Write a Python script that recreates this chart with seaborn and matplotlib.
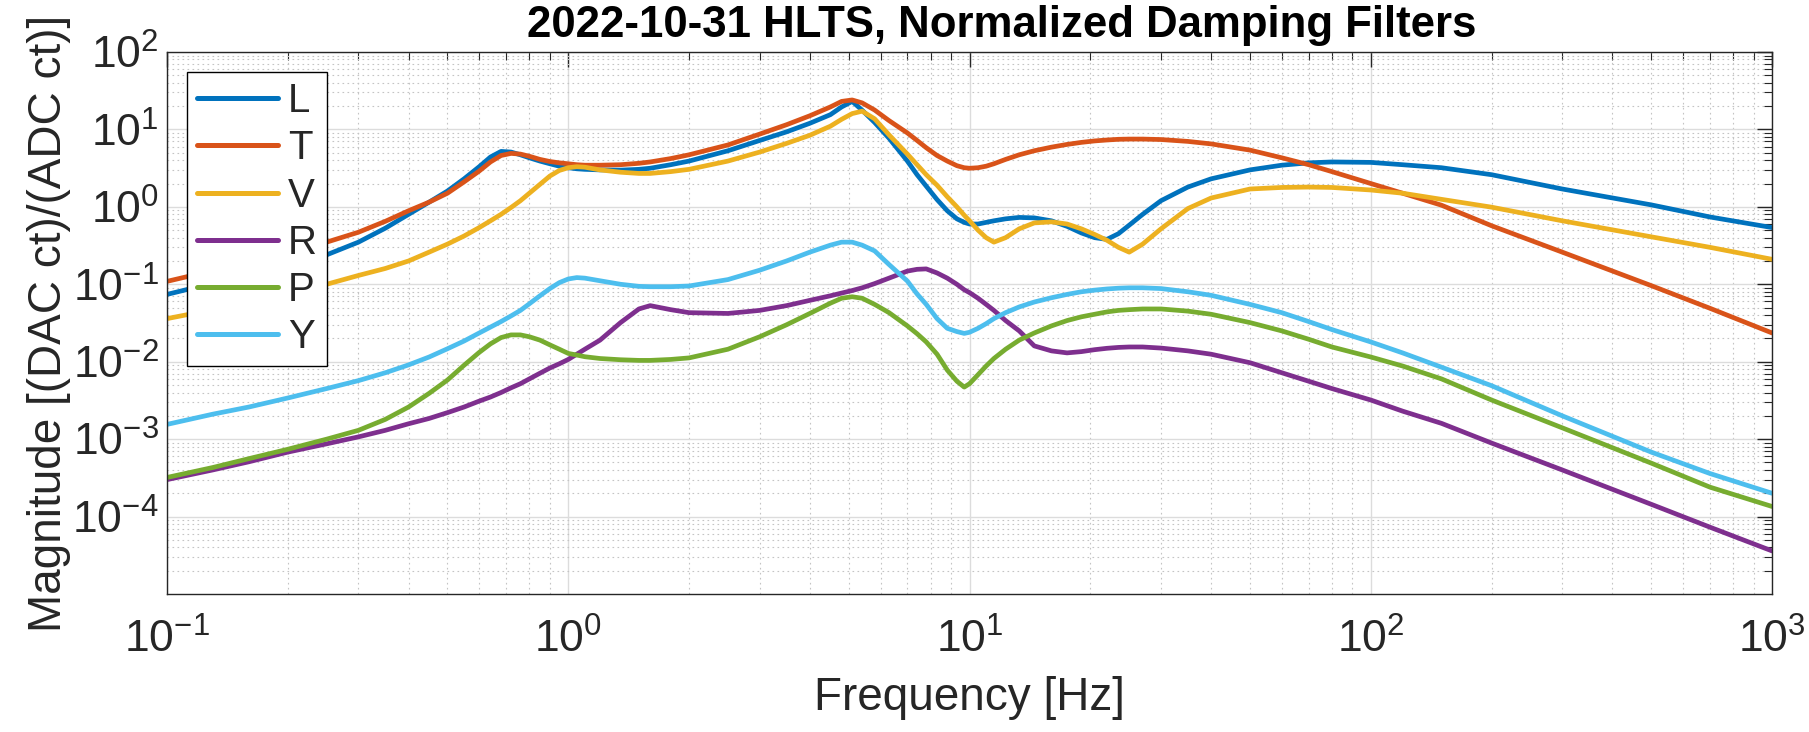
import numpy as np
import pandas as pd
import seaborn as sns
import matplotlib.pyplot as plt
from matplotlib.ticker import LogLocator, NullFormatter

# --- DATA ---
freq = [0.1, 0.13, 0.16, 0.2, 0.25, 0.3, 0.35, 0.4, 0.45, 0.5, 0.55, 0.6, 0.64, 0.68, 0.72,
        0.76, 0.8, 0.85, 0.9, 0.95, 1.0, 1.05, 1.1, 1.2, 1.35, 1.5, 1.6, 1.8, 2, 2.5, 3, 3.5,
        4, 4.5, 4.8, 5.1, 5.4, 5.8, 6.3, 7, 7.4, 7.8, 8.3, 8.8, 9.3, 9.7, 10, 10.5, 11, 11.5,
        12.3, 13.3, 14.5, 16, 17.5, 19, 20.5, 22, 23.5, 25, 27, 30, 35, 40, 50, 60, 70, 80,
        100, 120, 150, 200, 300, 500, 700, 1000]

mag_L = [0.074, 0.103, 0.133, 0.176, 0.24, 0.35, 0.53, 0.80, 1.15, 1.6, 2.3, 3.3, 4.4, 5.2, 5.1,
         4.7, 4.3, 3.9, 3.6, 3.35, 3.2, 3.1, 3.05, 3.0, 2.98, 3.05, 3.15, 3.5, 3.9, 5.3, 7.2, 9.3,
         12, 15.5, 19.5, 23, 17.7, 12.3, 7.7, 3.9, 2.6, 1.85, 1.24, 0.89, 0.70, 0.63, 0.6, 0.6, 0.63, 0.66,
         0.70, 0.73, 0.72, 0.66, 0.56, 0.46, 0.40, 0.38, 0.45, 0.58, 0.8, 1.2, 1.8, 2.3, 3.0, 3.45, 3.7, 3.8,
         3.75, 3.5, 3.2, 2.6, 1.7, 1.06, 0.74, 0.54]

mag_T = [0.109, 0.15, 0.195, 0.26, 0.35, 0.47, 0.65, 0.89, 1.15, 1.5, 2.1, 2.9, 3.8, 4.6, 4.9,
         4.8, 4.5, 4.1, 3.85, 3.7, 3.6, 3.5, 3.45, 3.45, 3.5, 3.65, 3.8, 4.2, 4.7, 6.3, 8.7, 11.5,
         15, 19.5, 23, 24, 22, 17.8, 13, 9, 7.2, 5.8, 4.6, 3.9, 3.4, 3.2, 3.15, 3.2, 3.35, 3.6,
         4.1, 4.7, 5.3, 5.9, 6.4, 6.8, 7.1, 7.3, 7.45, 7.5, 7.5, 7.4, 7.0, 6.5, 5.4, 4.3, 3.5, 2.85,
         2.0, 1.5, 1.05, 0.57, 0.26, 0.096, 0.049, 0.0235]

mag_V = [0.036, 0.047, 0.06, 0.078, 0.1, 0.13, 0.16, 0.2, 0.26, 0.33, 0.42, 0.54, 0.66, 0.8, 0.98,
         1.2, 1.5, 1.95, 2.5, 2.95, 3.2, 3.3, 3.25, 3.0, 2.8, 2.7, 2.7, 2.85, 3.05, 3.9, 5.1, 6.6,
         8.4, 11, 13.5, 16, 17.2, 13.7, 8.5, 4.8, 3.5, 2.6, 1.9, 1.35, 1.0, 0.78, 0.66, 0.5, 0.4, 0.35,
         0.4, 0.52, 0.62, 0.64, 0.6, 0.52, 0.44, 0.37, 0.3, 0.26, 0.33, 0.52, 0.95, 1.3, 1.7, 1.78, 1.8, 1.78,
         1.65, 1.5, 1.25, 0.99, 0.66, 0.41, 0.30, 0.21]

mag_R = [3.0e-4, 4.0e-4, 5.1e-4, 6.8e-4, 8.7e-4, 1.07e-3, 1.3e-3, 1.58e-3, 1.85e-3, 2.2e-3, 2.6e-3, 3.1e-3, 3.5e-3, 4.0e-3, 4.6e-3,
         5.2e-3, 6.0e-3, 7.1e-3, 8.3e-3, 9.4e-3, 0.0107, 0.0125, 0.0145, 0.019, 0.032, 0.048, 0.053, 0.047, 0.043, 0.042, 0.046, 0.053,
         0.062, 0.071, 0.077, 0.083, 0.09, 0.102, 0.12, 0.148, 0.156, 0.158, 0.14, 0.12, 0.1, 0.085, 0.078, 0.066, 0.055, 0.046,
         0.034, 0.025, 0.016, 0.0138, 0.013, 0.0135, 0.0143, 0.0149, 0.0153, 0.0155, 0.0155, 0.015, 0.0138, 0.0125, 0.0097, 0.0072, 0.0056, 0.0045,
         0.0032, 0.0023, 1.6e-3, 8.9e-4, 4.0e-4, 1.44e-4, 7.3e-5, 3.6e-5]

mag_P = [3.2e-4, 4.3e-4, 5.6e-4, 7.4e-4, 1.0e-3, 1.3e-3, 1.8e-3, 2.6e-3, 3.9e-3, 5.8e-3, 9.0e-3, 0.0132, 0.017, 0.0205, 0.0222,
         0.0222, 0.021, 0.019, 0.0165, 0.0145, 0.0128, 0.0122, 0.0116, 0.011, 0.0106, 0.0104, 0.0104, 0.0107, 0.0112, 0.0145, 0.021, 0.03,
         0.042, 0.057, 0.066, 0.069, 0.066, 0.055, 0.043, 0.029, 0.023, 0.018, 0.0125, 0.0078, 0.0056, 0.0047, 0.0052, 0.0068, 0.0088, 0.011,
         0.0145, 0.019, 0.0235, 0.029, 0.034, 0.038, 0.041, 0.044, 0.046, 0.047, 0.048, 0.048, 0.045, 0.041, 0.032, 0.025, 0.0195, 0.0155,
         0.0115, 0.0088, 6e-3, 3.2e-3, 1.4e-3, 4.9e-4, 2.4e-4, 1.35e-4]

mag_Y = [1.55e-3, 2.1e-3, 2.6e-3, 3.4e-3, 4.5e-3, 5.7e-3, 7.2e-3, 9.1e-3, 0.0115, 0.0147, 0.0185, 0.0235, 0.028, 0.033, 0.039,
         0.046, 0.056, 0.071, 0.088, 0.105, 0.117, 0.122, 0.12, 0.111, 0.1, 0.094, 0.093, 0.093, 0.095, 0.115, 0.152, 0.2,
         0.26, 0.32, 0.35, 0.35, 0.32, 0.27, 0.18, 0.11, 0.075, 0.055, 0.036, 0.027, 0.0245, 0.0232, 0.024, 0.027, 0.031, 0.036,
         0.043, 0.051, 0.059, 0.067, 0.074, 0.08, 0.084, 0.087, 0.089, 0.09, 0.09, 0.088, 0.08, 0.072, 0.055, 0.043, 0.033, 0.026,
         0.018, 0.013, 8.5e-3, 4.9e-3, 2.0e-3, 6.8e-4, 3.6e-4, 2.0e-4]

dofs = ['L', 'T', 'V', 'R', 'P', 'Y']
colors = ['#0072BD', '#D95319', '#EDB120', '#7E2F8E', '#77AC30', '#4DBEEE']

df = pd.concat([pd.DataFrame({'freq': freq, 'mag': m, 'dof': d})
                for d, m in zip(dofs, [mag_L, mag_T, mag_V, mag_R, mag_P, mag_Y])])

# --- STYLE ---
sns.set_theme(style='white')
plt.rcParams['font.family'] = ['Liberation Sans', 'DejaVu Sans']
plt.rcParams['axes.unicode_minus'] = False
txt = '#262626'

fig = plt.figure(figsize=(18.09, 7.32), dpi=100)
ax = fig.add_axes([0.0923, 0.1885, 0.8873, 0.7405])

sns.lineplot(data=df, x='freq', y='mag', hue='dof', palette=dict(zip(dofs, colors)),
             estimator=None, sort=False, linewidth=3.4, ax=ax)

ax.set_xscale('log')
ax.set_yscale('log')
ax.set_xlim(0.1, 1000)
ax.set_ylim(1e-5, 1e2)
ax.set_yticks([1e-4, 1e-3, 1e-2, 1e-1, 1e0, 1e1, 1e2])
ax.xaxis.set_minor_locator(LogLocator(base=10, subs=np.arange(2, 10), numticks=20))
ax.yaxis.set_minor_locator(LogLocator(base=10, subs=np.arange(2, 10), numticks=20))
ax.xaxis.set_minor_formatter(NullFormatter())
ax.yaxis.set_minor_formatter(NullFormatter())

ax.grid(True, which='major', color='#dcdcdc', linewidth=1.0, linestyle='-')
ax.grid(True, which='minor', color='#c4c4c4', linewidth=0.8, linestyle=(0, (1.5, 3)))
ax.set_axisbelow(True)

ax.tick_params(which='both', direction='in', top=True, right=True, colors=txt,
               labelsize=32, labelcolor=txt)
ax.tick_params(which='major', length=11, width=1)
ax.tick_params(which='minor', length=6, width=0.8)
ax.tick_params(axis='x', pad=18)
ax.tick_params(axis='y', pad=6)
for s in ax.spines.values():
    s.set_color(txt)
    s.set_linewidth(1.0)

ax.set_xlabel('Frequency [Hz]', fontsize=33, color=txt, labelpad=10)
ax.set_ylabel('Magnitude [(DAC ct)/(ADC ct)]', fontsize=33, color=txt, labelpad=1)
ax.set_title('2022-10-31 HLTS, Normalized Damping Filters', fontsize=31.5,
             fontweight='bold', color='black', pad=11, x=0.52)

leg = ax.legend(loc='upper left', bbox_to_anchor=(0.0125, 0.963), borderaxespad=0,
                fontsize=29, handlelength=2.0, labelspacing=0.23, handletextpad=0.25,
                borderpad=0.25, fancybox=False, framealpha=1, edgecolor='black', title=None)
leg.get_frame().set_linewidth(1.0)
for line in leg.get_lines():
    line.set_linewidth(3.6)

fig.savefig('out.png', dpi=100)
